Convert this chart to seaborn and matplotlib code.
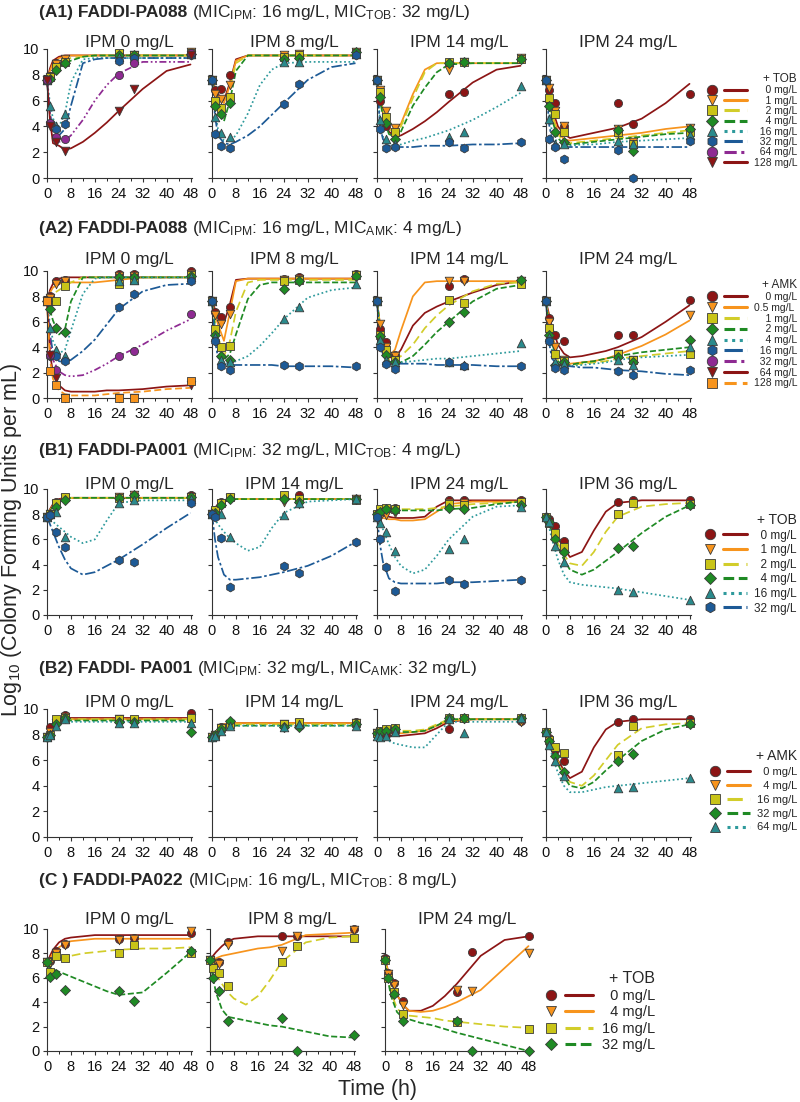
import matplotlib
matplotlib.use("Agg")
import matplotlib.pyplot as plt
from matplotlib.lines import Line2D
from matplotlib.legend_handler import HandlerTuple
import numpy as np
import seaborn as sns

# sampling times of the observed counts and of the fitted model curves (h)
OBS_T = [0, 1, 3, 6, 24, 29, 48]
FIT_T = [0, 1, 2, 4, 6, 8, 12, 16, 20, 24, 32, 40, 48]

# ---------------- (A1) FADDI-PA088, IPM + TOB ----------------
A1_CONC = ["0", "1", "2", "4", "16", "32", "64", "128"]
A1_IPM = ["0", "8", "14", "24"]

A1_IPM0_OBS = [
    [7.6, 7.9, 8.9, 9.1, 9.6, 9.5, 9.8],
    [7.6, 7.8, 8.8, 9.2, 9.6, 9.5, 9.8],
    [7.6, 7.8, 8.6, 9.0, 9.7, 9.5, 9.7],
    [7.6, 7.7, 8.4, 8.9, 9.5, 9.5, 9.6],
    [7.6, 5.6, 4.0, 5.0, 9.4, 9.3, 9.6],
    [7.6, 4.3, 3.8, 4.2, 9.1, 9.3, 9.5],
    [7.6, 4.3, 3.2, 3.0, 8.0, 8.9, 9.7],
    [7.6, 4.0, 2.8, 2.1, 5.2, 6.9, 9.5],
]
A1_IPM0_FIT = [
    [7.6, 8.5, 9.1, 9.4, 9.5, 9.5, 9.5, 9.5, 9.5, 9.5, 9.5, 9.5, 9.5],
    [7.6, 8.3, 8.9, 9.3, 9.4, 9.5, 9.5, 9.5, 9.5, 9.5, 9.5, 9.5, 9.5],
    [7.6, 8.1, 8.5, 9.0, 9.2, 9.3, 9.4, 9.5, 9.5, 9.5, 9.5, 9.5, 9.5],
    [7.6, 8.0, 8.2, 8.6, 8.9, 9.1, 9.4, 9.5, 9.5, 9.5, 9.5, 9.5, 9.5],
    [7.6, 5.8, 4.6, 4.0, 5.0, 7.4, 9.2, 9.3, 9.3, 9.3, 9.3, 9.3, 9.3],
    [7.6, 5.0, 3.8, 3.3, 3.8, 5.6, 8.9, 9.2, 9.3, 9.3, 9.3, 9.3, 9.3],
    [7.6, 4.8, 3.3, 2.8, 2.9, 3.3, 4.5, 6.0, 7.2, 8.1, 9.0, 9.0, 9.0],
    [7.6, 4.5, 2.7, 2.5, 2.2, 2.3, 2.8, 3.5, 4.3, 5.2, 6.9, 8.3, 8.8],
]
A1_IPM8_OBS = [
    [7.6, 6.8, 6.9, 8.0, 9.4, 9.5, 9.8],
    [7.6, 6.5, 6.1, 7.2, 9.5, 9.6, 9.8],
    [7.6, 6.0, 5.4, 6.3, 9.4, 9.5, 9.7],
    [7.6, 5.6, 5.0, 5.8, 9.2, 9.3, 9.8],
    [7.6, 4.7, 3.5, 3.2, 9.0, 9.0, 9.6],
    [7.6, 3.4, 2.5, 2.3, 5.7, 7.3, 9.5],
]
A1_IPM8_FIT = [
    [7.6, 7.0, 6.5, 6.0, 7.4, 9.2, 9.5, 9.5, 9.5, 9.5, 9.5, 9.5, 9.5],
    [7.6, 6.9, 6.3, 5.8, 7.2, 9.1, 9.5, 9.5, 9.5, 9.5, 9.5, 9.5, 9.5],
    [7.6, 6.6, 6.0, 5.4, 6.8, 8.9, 9.5, 9.5, 9.5, 9.5, 9.5, 9.5, 9.5],
    [7.6, 6.3, 5.4, 4.4, 6.0, 8.3, 9.5, 9.5, 9.5, 9.5, 9.5, 9.5, 9.5],
    [7.6, 5.2, 3.8, 2.9, 2.9, 3.3, 5.0, 7.2, 8.4, 8.9, 9.0, 9.0, 9.0],
    [7.6, 4.8, 3.3, 2.7, 2.6, 2.8, 3.3, 4.0, 4.9, 5.8, 7.6, 8.6, 8.9],
]
A1_IPM14_OBS = [
    [7.6, 6.0, 4.0, 3.6, 6.5, 6.7, 9.2],
    [7.6, 6.8, 5.2, 3.9, 8.4, 9.0, 9.3],
    [7.6, 6.7, 4.7, 3.6, 9.0, 9.0, 9.2],
    [7.6, 6.3, 4.3, 3.0, 8.9, 9.0, 9.2],
    [7.6, 4.5, 3.0, 2.6, 3.2, 3.6, 7.1],
    [7.6, 3.8, 2.3, 2.4, 2.8, 2.3, 2.8],
]
A1_IPM14_FIT = [
    [7.6, 6.2, 5.0, 3.6, 3.2, 3.3, 3.8, 4.4, 5.1, 5.9, 7.4, 8.4, 8.7],
    [7.6, 6.4, 5.3, 3.9, 3.6, 4.2, 6.5, 8.4, 8.9, 8.9, 8.9, 8.9, 8.9],
    [7.6, 6.3, 5.2, 3.8, 3.5, 4.0, 6.2, 8.2, 8.9, 8.9, 8.9, 8.9, 8.9],
    [7.6, 6.0, 4.8, 3.4, 3.2, 3.6, 5.6, 7.0, 8.2, 8.8, 8.9, 8.9, 8.9],
    [7.6, 4.5, 3.2, 2.6, 2.5, 2.6, 2.9, 3.1, 3.4, 3.7, 4.5, 5.5, 6.6],
    [7.6, 4.0, 3.0, 2.5, 2.4, 2.4, 2.4, 2.5, 2.5, 2.5, 2.6, 2.6, 2.7],
]
A1_IPM24_OBS = [
    [7.6, 6.8, 5.8, 4.0, 5.8, 4.2, 6.5],
    [7.6, 7.0, 5.2, 4.0, 3.8, 2.8, 3.9],
    [7.6, 6.2, 5.0, 3.6, 3.6, 2.6, 3.6],
    [7.6, 5.6, 3.6, 2.8, 3.7, 2.1, 3.8],
    [7.6, 4.6, 2.6, 2.6, 2.9, 2.6, 3.3],
    [7.6, 3.0, 2.4, 1.5, 2.2, 0.0, 2.9],
]
A1_IPM24_FIT = [
    [7.6, 6.5, 5.4, 4.0, 3.4, 3.1, 3.3, 3.5, 3.7, 3.9, 4.6, 5.8, 7.3],
    [7.6, 6.2, 5.0, 3.6, 3.0, 2.9, 3.0, 3.1, 3.2, 3.3, 3.5, 3.8, 4.0],
    [7.6, 6.0, 4.8, 3.4, 2.8, 2.7, 2.8, 2.9, 3.0, 3.1, 3.3, 3.5, 3.7],
    [7.6, 5.8, 4.5, 3.1, 2.6, 2.6, 2.7, 2.8, 2.9, 3.0, 3.2, 3.4, 3.5],
    [7.6, 5.0, 3.6, 2.6, 2.5, 2.5, 2.6, 2.6, 2.7, 2.8, 2.9, 3.0, 3.1],
    [7.6, 4.2, 3.0, 2.5, 2.4, 2.4, 2.4, 2.4, 2.4, 2.4, 2.4, 2.4, 2.4],
]

# ---------------- (A2) FADDI-PA088, IPM + AMK ----------------
A2_CONC = ["0", "0.5", "1", "2", "4", "16", "32", "64", "128"]
A2_IPM = ["0", "8", "14", "24"]

A2_IPM0_OBS = [
    [7.6, 8.0, 9.2, 9.3, 9.8, 9.8, 10.0],
    [7.6, 7.9, 9.0, 9.2, 9.6, 9.6, 9.8],
    [7.6, 7.6, 7.6, 8.8, 9.0, 9.3, 9.7],
    [7.6, 7.0, 5.5, 5.2, 9.5, 9.5, 9.6],
    [7.6, 5.5, 3.8, 3.3, 9.2, 9.3, 9.5],
    [7.6, 3.3, 3.3, 2.9, 7.2, 8.2, 9.2],
    [7.6, 3.4, 2.2, None, 3.3, 3.7, 6.6],
    [7.6, 3.4, 1.6, 0.0, 0.0, 0.0, 1.0],
    [7.6, 2.1, 1.0, 0.0, 0.0, 0.0, 1.3],
]
A2_IPM0_FIT = [
    [7.6, 8.5, 9.0, 9.4, 9.5, 9.5, 9.5, 9.5, 9.5, 9.5, 9.5, 9.5, 9.5],
    [7.6, 8.3, 8.7, 9.0, 9.1, 9.1, 9.1, 9.1, 9.2, 9.3, 9.5, 9.5, 9.5],
    [7.6, 7.9, 8.2, 8.5, 8.8, 9.1, 9.5, 9.5, 9.5, 9.5, 9.5, 9.5, 9.5],
    [7.6, 6.9, 6.1, 5.0, 5.4, 7.6, 9.5, 9.5, 9.5, 9.5, 9.5, 9.5, 9.5],
    [7.6, 5.8, 4.5, 3.5, 3.8, 5.3, 8.2, 9.4, 9.5, 9.5, 9.5, 9.5, 9.5],
    [7.6, 5.0, 3.6, 2.9, 2.8, 3.0, 3.7, 4.6, 5.8, 7.0, 8.4, 8.9, 9.0],
    [7.6, 4.5, 3.0, 2.1, 1.8, 1.7, 1.8, 2.2, 2.7, 3.3, 4.2, 5.3, 6.2],
    [7.6, 3.5, 2.0, 1.0, 0.6, 0.5, 0.5, 0.5, 0.6, 0.6, 0.7, 0.9, 1.0],
    [7.6, 3.0, 1.5, 0.6, 0.3, 0.2, 0.2, 0.2, 0.3, 0.4, 0.5, 0.7, 0.8],
]
A2_IPM8_OBS = [
    [7.6, 6.8, 6.4, 7.2, 9.4, 9.5, 9.8],
    [7.6, 6.5, 5.8, 6.6, 9.3, 9.4, 9.7],
    [7.6, 5.4, 4.0, 4.1, 9.2, 9.3, 9.7],
    [7.6, 5.0, 3.3, 3.0, 8.6, 9.2, 9.6],
    [7.6, 4.8, 3.0, 2.8, 6.2, 7.2, 9.0],
    [7.6, 4.5, 2.5, 2.2, 2.6, 2.5, 2.5],
]
A2_IPM8_FIT = [
    [7.6, 7.0, 6.5, 5.9, 7.4, 9.3, 9.4, 9.4, 9.4, 9.4, 9.4, 9.4, 9.4],
    [7.6, 6.6, 5.8, 4.5, 6.8, 9.2, 9.4, 9.4, 9.4, 9.4, 9.4, 9.4, 9.4],
    [7.6, 6.0, 4.8, 3.3, 4.5, 6.8, 9.1, 9.3, 9.3, 9.3, 9.3, 9.3, 9.3],
    [7.6, 5.6, 4.3, 3.0, 3.5, 5.0, 7.8, 8.9, 9.1, 9.1, 9.1, 9.1, 9.1],
    [7.6, 5.0, 3.8, 2.8, 2.7, 2.9, 3.3, 4.1, 5.1, 6.2, 7.9, 8.5, 8.7],
    [7.6, 4.5, 3.2, 2.7, 2.6, 2.6, 2.6, 2.6, 2.6, 2.5, 2.5, 2.5, 2.4],
]
A2_IPM14_OBS = [
    [7.6, 5.4, 4.4, 3.4, 8.8, 9.4, 9.2],
    [7.6, 5.8, 4.0, 3.3, 9.2, 9.2, 9.2],
    [7.6, 5.0, 3.8, 3.0, 7.7, 7.5, 9.0],
    [7.6, 4.9, 3.4, 2.8, 6.0, 6.8, 9.3],
    [7.6, 4.6, 3.0, 2.8, 2.8, 2.6, 4.3],
    [7.6, 4.0, 2.7, 2.3, 2.8, 2.5, 2.5],
]
A2_IPM14_FIT = [
    [7.6, 5.8, 4.4, 3.2, 3.2, 3.8, 5.7, 6.7, 7.2, 7.6, 8.3, 8.9, 9.2],
    [7.6, 5.8, 4.5, 3.3, 3.8, 5.3, 8.0, 9.1, 9.2, 9.2, 9.2, 9.2, 9.2],
    [7.6, 5.6, 4.3, 3.0, 3.0, 3.3, 4.2, 5.5, 6.5, 7.3, 8.4, 9.0, 9.1],
    [7.6, 5.5, 4.1, 2.9, 2.7, 2.8, 3.3, 4.2, 5.2, 6.0, 7.6, 8.6, 8.9],
    [7.6, 4.8, 3.6, 2.9, 2.8, 2.8, 2.9, 3.0, 3.1, 3.1, 3.3, 3.5, 3.7],
    [7.6, 4.5, 3.3, 2.8, 2.7, 2.7, 2.7, 2.7, 2.6, 2.6, 2.6, 2.5, 2.5],
]
A2_IPM24_OBS = [
    [7.6, 6.3, 5.0, 4.5, 5.0, 5.0, 7.7],
    [7.6, 6.0, 4.0, 3.0, 3.5, 3.0, 6.5],
    [7.6, 5.5, 3.5, 2.9, 3.5, 3.0, 3.5],
    [7.6, 5.0, 2.6, 2.8, 3.2, 2.8, 4.6],
    [7.6, 4.8, 2.8, 2.7, 3.0, 2.6, 4.0],
    [7.6, 4.5, 2.4, 2.2, 2.1, 1.8, 2.2],
]
A2_IPM24_FIT = [
    [7.6, 6.6, 5.6, 4.2, 3.5, 3.2, 3.3, 3.5, 3.7, 4.0, 4.8, 6.0, 7.3],
    [7.6, 6.2, 5.0, 3.4, 2.7, 2.7, 2.8, 2.9, 3.1, 3.4, 4.1, 5.0, 6.1],
    [7.6, 5.9, 4.6, 3.0, 2.6, 2.6, 2.7, 2.8, 2.9, 3.1, 3.3, 3.5, 3.7],
    [7.6, 5.7, 4.3, 2.9, 2.5, 2.6, 2.8, 2.9, 3.1, 3.3, 3.6, 3.8, 4.0],
    [7.6, 5.2, 3.8, 2.7, 2.5, 2.5, 2.6, 2.7, 2.8, 3.0, 3.2, 3.3, 3.4],
    [7.6, 4.4, 3.1, 2.6, 2.5, 2.5, 2.4, 2.4, 2.3, 2.2, 2.1, 1.9, 1.8],
]

# ---------------- (B1) FADDI-PA001, IPM + TOB ----------------
B1_CONC = ["0", "1", "2", "4", "16", "32"]
B1_IPM = ["0", "14", "24", "36"]

B1_IPM0_OBS = [
    [7.8, 7.9, 9.0, 9.3, 9.4, 9.5, 9.5],
    [7.8, 8.0, 8.8, 9.3, 9.4, 9.5, 9.4],
    [7.8, 8.0, 8.9, 9.4, 9.3, 9.4, 9.4],
    [7.8, 8.0, 8.6, 9.1, 9.3, 9.5, 9.4],
    [7.8, 8.0, 8.2, 6.2, 8.9, 9.1, 9.2],
    [7.8, 7.9, 6.6, 5.4, 4.4, 4.2, 8.9],
]
B1_IPM0_FIT = [
    [7.8, 8.4, 8.8, 9.2, 9.3, 9.3, 9.3, 9.3, 9.3, 9.3, 9.3, 9.3, 9.3],
    [7.8, 8.3, 8.7, 9.1, 9.3, 9.3, 9.3, 9.3, 9.3, 9.3, 9.3, 9.3, 9.3],
    [7.8, 8.3, 8.7, 9.1, 9.3, 9.3, 9.3, 9.3, 9.3, 9.3, 9.3, 9.3, 9.3],
    [7.8, 8.2, 8.6, 9.0, 9.2, 9.3, 9.3, 9.3, 9.3, 9.3, 9.3, 9.3, 9.3],
    [7.8, 7.6, 7.4, 7.0, 6.6, 6.2, 5.7, 6.0, 7.5, 8.9, 9.1, 9.1, 9.1],
    [7.8, 7.2, 6.6, 5.4, 4.4, 3.7, 3.2, 3.4, 3.9, 4.4, 5.6, 6.9, 8.1],
]
B1_IPM14_OBS = [
    [8.0, 8.3, 9.0, 9.4, 9.4, 9.5, 9.2],
    [8.0, 8.2, 8.8, 9.3, 9.0, 8.8, 9.2],
    [8.0, 8.3, 8.9, 9.4, 9.5, 9.2, 9.1],
    [8.0, 8.1, 8.7, 9.2, 9.2, 9.0, 9.2],
    [8.0, 8.0, 8.0, 6.2, 7.9, 8.9, 9.2],
    [8.0, 7.8, 6.1, 2.2, 3.9, 3.3, 5.8],
]
B1_IPM14_FIT = [
    [8.1, 8.5, 8.8, 9.1, 9.2, 9.2, 9.2, 9.2, 9.2, 9.2, 9.2, 9.2, 9.2],
    [8.0, 8.4, 8.7, 9.0, 9.2, 9.2, 9.2, 9.2, 9.2, 9.2, 9.2, 9.2, 9.2],
    [8.0, 8.4, 8.7, 9.0, 9.2, 9.2, 9.2, 9.2, 9.2, 9.2, 9.2, 9.2, 9.2],
    [8.0, 8.3, 8.6, 9.0, 9.1, 9.2, 9.2, 9.2, 9.2, 9.2, 9.2, 9.2, 9.2],
    [8.0, 7.6, 7.2, 6.6, 6.1, 5.7, 5.1, 5.4, 6.9, 8.1, 9.0, 9.1, 9.2],
    [8.0, 6.0, 4.6, 3.2, 2.8, 2.8, 2.9, 3.0, 3.2, 3.4, 3.9, 4.7, 5.8],
]
B1_IPM24_OBS = [
    [8.0, 8.1, 8.3, 8.5, 9.1, 9.1, 9.1],
    [7.9, 7.8, 7.9, 8.1, 8.9, 8.9, 9.0],
    [8.0, 8.4, 8.5, 8.4, 8.8, 8.7, 9.0],
    [8.0, 8.2, 8.4, 8.3, 8.5, 8.4, 8.7],
    [7.8, 7.3, 6.6, 5.1, 5.2, 6.0, 8.6],
    [7.8, 6.0, 3.8, 1.9, 2.8, 2.5, 2.8],
]
B1_IPM24_FIT = [
    [8.0, 7.9, 7.9, 7.8, 7.7, 7.7, 7.7, 7.8, 8.6, 9.1, 9.1, 9.1, 9.1],
    [7.9, 7.8, 7.7, 7.6, 7.6, 7.5, 7.5, 7.6, 8.2, 8.8, 9.0, 9.0, 9.0],
    [8.0, 8.2, 8.3, 8.4, 8.4, 8.4, 8.4, 8.4, 8.5, 8.6, 8.8, 8.9, 9.0],
    [8.0, 8.2, 8.3, 8.3, 8.3, 8.3, 8.3, 8.3, 8.3, 8.4, 8.5, 8.8, 9.0],
    [7.8, 7.3, 6.8, 5.6, 4.6, 3.9, 3.3, 3.6, 4.7, 6.0, 7.8, 8.6, 8.7],
    [7.8, 5.6, 4.2, 2.9, 2.6, 2.5, 2.5, 2.5, 2.5, 2.6, 2.6, 2.7, 2.8],
]
B1_IPM36_OBS = [
    [7.8, 7.6, 7.1, 5.9, 9.0, 9.1, 9.1],
    None,
    [7.8, 7.3, 6.5, 5.4, 8.0, 8.9, 8.8],
    [7.8, 7.4, 6.0, 5.0, 5.3, 5.5, 8.7],
    [7.8, 7.4, 5.5, 4.2, 2.0, 1.8, 1.2],
    None,
]
B1_IPM36_FIT = [
    [7.8, 7.4, 6.9, 6.1, 5.3, 4.6, 5.0, 6.7, 8.2, 8.9, 9.1, 9.1, 9.1],
    None,
    [7.8, 7.3, 6.7, 5.7, 4.8, 4.1, 3.9, 5.0, 6.6, 7.8, 8.6, 8.8, 8.9],
    [7.8, 7.2, 6.6, 5.4, 4.4, 3.6, 3.2, 3.6, 4.3, 5.0, 6.5, 7.8, 8.7],
    [7.8, 7.0, 6.0, 4.4, 3.2, 2.6, 2.4, 2.3, 2.2, 2.1, 1.8, 1.5, 1.2],
    None,
]

# ---------------- (B2) FADDI-PA001, IPM + AMK ----------------
B2_CONC = ["0", "4", "16", "32", "64"]
B2_IPM = ["0", "14", "24", "36"]

B2_IPM0_OBS = [
    [7.8, 8.6, 9.1, 9.5, 9.2, 9.1, 9.7],
    [7.8, 8.2, 8.9, 9.4, 9.2, 9.1, 9.3],
    [7.8, 8.0, 9.2, 9.3, 9.2, 9.2, 9.3],
    [7.8, 8.0, 8.8, 9.3, 9.0, 9.0, 8.2],
    [7.8, 8.0, 8.7, 9.2, 8.9, 8.9, 8.9],
]
B2_IPM0_FIT = [
    [7.8, 8.3, 8.7, 9.1, 9.3, 9.3, 9.3, 9.3, 9.3, 9.3, 9.3, 9.3, 9.3],
    [7.8, 8.2, 8.6, 9.0, 9.2, 9.2, 9.2, 9.2, 9.2, 9.2, 9.2, 9.2, 9.2],
    [7.8, 8.2, 8.6, 9.0, 9.2, 9.2, 9.2, 9.2, 9.2, 9.2, 9.2, 9.2, 9.2],
    [7.8, 8.1, 8.5, 8.9, 9.1, 9.1, 9.1, 9.1, 9.1, 9.1, 9.1, 9.1, 9.1],
    [7.8, 8.1, 8.4, 8.8, 9.0, 9.0, 9.0, 9.0, 9.0, 9.0, 9.0, 9.0, 9.0],
]
B2_IPM14_OBS = [
    [7.8, 7.9, 8.6, 8.8, 8.7, 8.7, 9.0],
    [7.8, 8.0, 8.5, 8.8, 8.8, 8.9, 8.9],
    [7.8, 8.0, 8.5, 8.8, 8.8, 9.0, 8.9],
    [7.8, 8.0, 8.4, 9.1, 8.6, 8.6, 8.8],
    [7.8, 7.9, 8.3, 8.7, 8.6, 8.8, 8.7],
]
B2_IPM14_FIT = [
    [7.8, 8.1, 8.4, 8.8, 8.9, 8.9, 8.9, 8.9, 8.9, 8.9, 8.9, 8.9, 8.9],
    [7.8, 8.1, 8.4, 8.8, 8.9, 8.9, 8.9, 8.9, 8.9, 8.9, 8.9, 8.9, 8.9],
    [7.8, 8.1, 8.4, 8.7, 8.8, 8.8, 8.8, 8.8, 8.8, 8.8, 8.8, 8.8, 8.8],
    [7.8, 8.0, 8.3, 8.6, 8.7, 8.7, 8.7, 8.7, 8.7, 8.7, 8.7, 8.7, 8.7],
    [7.8, 8.0, 8.3, 8.6, 8.7, 8.7, 8.7, 8.7, 8.7, 8.7, 8.7, 8.7, 8.7],
]
B2_IPM24_OBS = [
    [8.0, 8.1, 8.0, 8.2, 8.4, 9.3, 9.1],
    [8.1, 8.2, 8.1, 8.3, 9.1, 9.2, 9.0],
    [8.1, 8.3, 8.4, 8.5, 9.3, 9.3, 9.3],
    [8.1, 8.2, 8.3, 8.4, 9.3, 9.3, 9.3],
    [7.9, 7.8, 7.9, 8.2, 9.2, 8.1, 9.3],
]
B2_IPM24_FIT = [
    [8.0, 7.9, 7.9, 7.9, 7.9, 7.9, 8.0, 8.1, 8.5, 9.0, 9.2, 9.2, 9.2],
    [8.1, 8.1, 8.1, 8.1, 8.1, 8.1, 8.2, 8.3, 8.7, 9.1, 9.2, 9.2, 9.2],
    [8.1, 8.2, 8.2, 8.3, 8.3, 8.3, 8.3, 8.4, 8.8, 9.2, 9.2, 9.2, 9.2],
    [8.1, 8.2, 8.2, 8.2, 8.2, 8.2, 8.2, 8.3, 8.7, 9.2, 9.2, 9.2, 9.2],
    [7.9, 7.8, 7.7, 7.5, 7.3, 7.2, 7.0, 7.0, 8.0, 9.0, 9.0, 9.0, 9.0],
]
B2_IPM36_OBS = [
    [8.2, 7.7, 6.8, 5.9, 9.0, 9.2, 9.2],
    None,
    [8.2, 7.6, 7.0, 6.6, 6.4, 8.7, 8.9],
    [8.2, 7.5, 6.3, 5.1, 5.9, 6.5, 8.8],
    [8.2, 7.2, 5.9, 4.8, 3.8, 3.9, 4.6],
]
B2_IPM36_FIT = [
    [8.2, 7.6, 7.0, 6.0, 5.2, 4.6, 5.1, 7.0, 8.4, 9.0, 9.2, 9.2, 9.2],
    None,
    [8.2, 7.6, 6.9, 5.9, 5.0, 4.3, 4.0, 4.8, 6.0, 7.2, 8.5, 8.8, 8.9],
    [8.2, 7.5, 6.8, 5.7, 4.7, 4.0, 3.8, 4.3, 5.2, 6.0, 7.5, 8.4, 8.8],
    [8.2, 7.3, 6.4, 5.0, 4.0, 3.5, 3.5, 3.7, 3.9, 4.0, 4.2, 4.4, 4.6],
]

# ---------------- (C) FADDI-PA022, IPM + TOB ----------------
C_CONC = ["0", "4", "16", "32"]
C_IPM = ["0", "8", "24"]

C_IPM0_OBS = [
    [7.3, 7.4, 8.2, 8.8, 9.2, 9.3, 9.7],
    [7.3, 7.2, 8.0, 8.7, 9.1, 9.2, 9.8],
    [7.3, 6.5, 7.8, 7.6, 8.0, 8.7, 8.0],
    [7.3, 6.1, 6.3, 5.0, 4.9, 4.1, 8.2],
]
C_IPM0_FIT = [
    [7.2, 7.8, 8.3, 8.9, 9.2, 9.3, 9.4, 9.5, 9.5, 9.5, 9.5, 9.5, 9.5],
    [7.2, 7.6, 8.0, 8.5, 8.8, 9.0, 9.1, 9.2, 9.2, 9.2, 9.2, 9.2, 9.2],
    [7.2, 7.3, 7.4, 7.6, 7.7, 7.8, 8.0, 8.1, 8.2, 8.3, 8.4, 8.4, 8.5],
    [7.0, 6.8, 6.7, 6.5, 6.3, 6.1, 5.7, 5.3, 4.9, 4.6, 4.8, 6.4, 8.1],
]
C_IPM8_OBS = [
    [7.5, 7.2, 7.3, 8.9, 9.4, 9.4, 10.0],
    [7.5, 7.2, 7.1, 8.7, 8.2, 9.4, 9.9],
    [7.5, 6.8, 6.4, 5.3, 7.3, 8.6, 9.3],
    [7.5, 6.0, 4.9, 2.5, 2.7, 0.0, 1.3],
]
C_IPM8_FIT = [
    [7.5, 7.8, 8.1, 8.6, 9.0, 9.2, 9.3, 9.4, 9.4, 9.4, 9.4, 9.4, 9.4],
    [7.4, 7.5, 7.6, 7.8, 7.9, 8.0, 8.2, 8.4, 8.5, 8.7, 9.5, 9.6, 9.7],
    [7.4, 6.8, 6.3, 5.5, 4.8, 4.3, 3.8, 4.5, 5.8, 7.3, 8.9, 9.3, 9.4],
    [7.4, 6.0, 4.8, 3.4, 2.8, 2.7, 2.5, 2.3, 2.1, 2.0, 1.6, 1.2, 1.1],
]
C_IPM24_OBS = [
    [7.6, 6.4, 5.6, 4.1, 4.8, 8.1, 9.4],
    [7.5, 6.3, 5.4, 3.8, 5.0, 4.9, 8.0],
    [7.5, 6.0, 4.8, 3.0, 2.4, None, 1.8],
    [7.5, 6.0, 4.7, 2.5, 2.5, 0.0, 0.0],
]
C_IPM24_FIT = [
    [7.5, 6.6, 5.8, 4.6, 3.8, 3.3, 3.3, 3.7, 4.5, 5.5, 7.8, 9.1, 9.4],
    [7.5, 6.6, 5.8, 4.6, 3.8, 3.3, 3.2, 3.3, 3.6, 4.0, 5.0, 6.8, 8.6],
    [7.5, 6.0, 4.8, 3.5, 3.0, 2.9, 2.8, 2.7, 2.5, 2.4, 2.2, 2.0, 1.9],
    [7.5, 5.8, 4.5, 3.2, 2.7, 2.6, 2.3, 2.1, 1.8, 1.5, 1.0, 0.5, 0.0],
]

# ---------------- styles (one slot per concentration level) ----------------
MARKERS = ["o", "v", "s", "D", "^", "h", "o", "v", "s"]
FACES = ["#8c1515", "#f7941d", "#c9c418", "#1f8a24", "#2a8a8c", "#1d5a96",
         "#8e2a92", "#8c1515", "#f7941d"]
LINES = ["#8c1515", "#f7941d", "#d2cd2a", "#1f8a24", "#2e9a9c", "#1d5a96",
         "#8e2a92", "#8c1515", "#f7941d"]
DASHES = ["-", "-", (0, (5, 2.5)), (0, (3.5, 1.5)), (0, (1, 1.5)),
          (0, (6, 1.5, 1.5, 1.5)), (0, (4, 1.5, 1, 1.5, 1, 1.5)), "-", (0, (4, 2))]
MSIZE = [34, 38, 30, 26, 38, 40, 34, 38, 30]

sns.set_theme(style="ticks")
plt.rcParams["font.family"] = ["Liberation Sans", "DejaVu Sans"]
plt.rcParams["mathtext.fontset"] = "custom"
plt.rcParams["mathtext.rm"] = "Liberation Sans"
plt.rcParams["mathtext.it"] = "Liberation Sans:italic"
plt.rcParams["mathtext.bf"] = "Liberation Sans:bold"

W, H = 800, 1102
AX_W = 145
fig = plt.figure(figsize=(W / 100, H / 100), dpi=100)
fig.patch.set_facecolor("white")
renderer = fig.canvas.get_renderer()


def draw_panel(x_px, top_px, bot_px, ipm, obs, fit, first, title_dy):
    ax = fig.add_axes([x_px / W, 1 - bot_px / H, AX_W / W, (bot_px - top_px) / H])
    for i, f in enumerate(fit):
        if f is None:
            continue
        sns.lineplot(x=FIT_T, y=f, ax=ax, color=LINES[i], linestyle=DASHES[i],
                     lw=1.25, errorbar=None, legend=False, clip_on=False, zorder=2)
    for i, o in enumerate(obs):
        if o is None:
            continue
        sns.scatterplot(x=OBS_T, y=np.array(o, dtype=float), ax=ax, marker=MARKERS[i],
                        s=MSIZE[i], color=FACES[i], edgecolor="#3a3a3a", linewidth=0.6,
                        legend=False, clip_on=False, zorder=3)
    ax.set_xlim(0, 48.5)
    ax.set_ylim(0, 10)
    ax.set_xticks(range(0, 49, 8))
    ax.set_xticks(range(0, 49, 4), minor=True)
    ax.set_yticks(range(0, 11, 2))
    if not first:
        ax.set_yticklabels([])
    ax.tick_params(axis="both", labelsize=10.5, length=3, width=0.8, color="#333333",
                   labelcolor="#111111")
    ax.tick_params(axis="x", pad=3.5)
    ax.tick_params(axis="y", pad=2.5)
    ax.tick_params(which="minor", length=2, width=0.7)
    ax.set_xlabel("")
    ax.set_ylabel("")
    for s in ["left", "bottom"]:
        ax.spines[s].set_linewidth(0.8)
        ax.spines[s].set_color("#333333")
    sns.despine(ax=ax)
    ax.annotate(f"IPM {ipm} mg/L", xy=(0.57, 1), xycoords="axes fraction",
                xytext=(0, title_dy), textcoords="offset points",
                ha="center", va="center", fontsize=12.5)
    return ax


def row_title(y_px, bold, rest):
    t = fig.text(39 / W, 1 - y_px / H, bold, fontsize=12.5, fontweight="bold",
                 va="baseline", ha="left")
    bb = t.get_window_extent(renderer=renderer)
    fig.text((bb.x1 + 5) / fig.bbox.width, 1 - y_px / H, rest, fontsize=12.5,
             va="baseline", ha="left")


def row_legend(conc, drug, right_px, top_px, fs, tfs, hl, spacing):
    width = max(len(c) for c in conc)
    handles, labels = [], []
    for i, c in enumerate(conc):
        mk = Line2D([], [], ls="none", marker=MARKERS[i], markersize=7.5 if MARKERS[i] != "D" else 6.5,
                    markerfacecolor=FACES[i], markeredgecolor="#3a3a3a", markeredgewidth=0.6)
        ln = Line2D([], [], color=LINES[i], lw=2.2, ls=DASHES[i])
        handles.append((mk, ln))
        labels.append(c.rjust(width, "\u2007") + " mg/L")
    fig.legend(handles, labels, loc="upper right",
               bbox_to_anchor=(right_px / W, 1 - top_px / H), bbox_transform=fig.transFigure,
               handler_map={tuple: HandlerTuple(ndivide=None, pad=0.0)},
               frameon=False, fontsize=fs, title=f"+ {drug}", title_fontsize=tfs,
               alignment="right", handlelength=hl, handletextpad=0.6,
               labelspacing=spacing, borderpad=0, borderaxespad=0)


COLS4 = [47, 212, 377, 546]
COLS3 = [47, 210, 385]

# (A1)
row_title(17, "(A1) FADDI-PA088", r"(MIC$_{\mathrm{IPM}}$: 16 mg/L, MIC$_{\mathrm{TOB}}$: 32 mg/L)")
for j, (ipm, o, f) in enumerate(zip(A1_IPM, [A1_IPM0_OBS, A1_IPM8_OBS, A1_IPM14_OBS, A1_IPM24_OBS],
                                    [A1_IPM0_FIT, A1_IPM8_FIT, A1_IPM14_FIT, A1_IPM24_FIT])):
    draw_panel(COLS4[j], 49, 178, ipm, o, f, j == 0, 5)
row_legend(A1_CONC, "TOB", 797, 73, 7.5, 8.5, 4.5, 0.03)

# (A2)
row_title(233, "(A2) FADDI-PA088", r"(MIC$_{\mathrm{IPM}}$: 16 mg/L, MIC$_{\mathrm{AMK}}$: 4 mg/L)")
for j, (ipm, o, f) in enumerate(zip(A2_IPM, [A2_IPM0_OBS, A2_IPM8_OBS, A2_IPM14_OBS, A2_IPM24_OBS],
                                    [A2_IPM0_FIT, A2_IPM8_FIT, A2_IPM14_FIT, A2_IPM24_FIT])):
    draw_panel(COLS4[j], 271, 398, ipm, o, f, j == 0, 8)
row_legend(A2_CONC, "AMK", 797, 279, 7.5, 8.5, 4.5, 0.08)

# (B1)
row_title(455, "(B1) FADDI-PA001", r"(MIC$_{\mathrm{IPM}}$: 32 mg/L, MIC$_{\mathrm{TOB}}$: 4 mg/L)")
for j, (ipm, o, f) in enumerate(zip(B1_IPM, [B1_IPM0_OBS, B1_IPM14_OBS, B1_IPM24_OBS, B1_IPM36_OBS],
                                    [B1_IPM0_FIT, B1_IPM14_FIT, B1_IPM24_FIT, B1_IPM36_FIT])):
    draw_panel(COLS4[j], 489, 615, ipm, o, f, j == 0, 3)
row_legend(B1_CONC, "TOB", 797, 513, 8.5, 10, 4.2, 0.22)

# (B2)
row_title(673, "(B2) FADDI- PA001", r"(MIC$_{\mathrm{IPM}}$: 32 mg/L, MIC$_{\mathrm{AMK}}$: 32 mg/L)")
for j, (ipm, o, f) in enumerate(zip(B2_IPM, [B2_IPM0_OBS, B2_IPM14_OBS, B2_IPM24_OBS, B2_IPM36_OBS],
                                    [B2_IPM0_FIT, B2_IPM14_FIT, B2_IPM24_FIT, B2_IPM36_FIT])):
    draw_panel(COLS4[j], 709, 837, ipm, o, f, j == 0, 5)
row_legend(B2_CONC, "AMK", 797, 749, 8, 10, 4.2, 0.35)

# (C)
row_title(885, "(C ) FADDI-PA022", r"(MIC$_{\mathrm{IPM}}$: 16 mg/L, MIC$_{\mathrm{TOB}}$: 8 mg/L)")
for j, (ipm, o, f) in enumerate(zip(C_IPM, [C_IPM0_OBS, C_IPM8_OBS, C_IPM24_OBS],
                                    [C_IPM0_FIT, C_IPM8_FIT, C_IPM24_FIT])):
    draw_panel(COLS3[j], 929, 1051, ipm, o, f, j == 0, 7)
row_legend(C_CONC, "TOB", 655, 971, 10.5, 11.5, 3.8, 0.18)

fig.text(12 / W, 1 - 540 / H, r"Log$_{10}$ (Colony Forming Units per mL)", rotation=90,
         fontsize=15.5, ha="center", va="center")
fig.text(377 / W, 1 - 1090 / H, "Time (h)", fontsize=15.5, ha="center", va="center")

fig.savefig("out.png", dpi=100, facecolor="white")
